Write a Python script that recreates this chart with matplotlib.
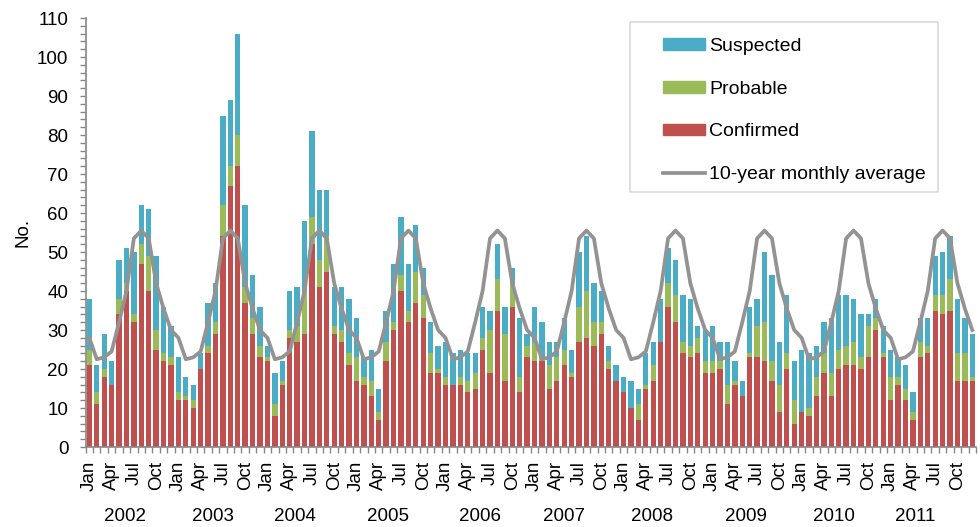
import numpy as np
import matplotlib.pyplot as plt
from matplotlib.patches import Rectangle, Patch
from matplotlib.lines import Line2D

plt.rcParams['font.family'] = ['Liberation Sans', 'DejaVu Sans']

# data, read month by month (Jan..Dec) for 2002-2011
years = ['2002', '2003', '2004', '2005', '2006', '2007', '2008', '2009', '2010', '2011']
month_labels = ['Jan', 'Apr', 'Jul', 'Oct']

confirmed = [21, 11, 18, 16, 34, 40, 32, 47, 40, 25, 22, 21,
             12, 12, 10, 20, 24, 29, 54, 67, 72, 37, 29, 23,
             22, 8, 16, 28, 27, 29, 52, 41, 45, 29, 27, 21,
             17, 16, 13, 7, 22, 30, 40, 32, 37, 33, 19, 19,
             16, 16, 16, 14, 15, 25, 19, 35, 17, 36, 14, 23,
             22, 22, 15, 17, 21, 18, 27, 28, 26, 29, 20, 17,
             14, 10, 7, 15, 17, 27, 36, 32, 24, 23, 24, 19,
             19, 20, 11, 16, 13, 23, 23, 22, 17, 9, 20, 6,
             9, 8, 13, 19, 13, 20, 21, 21, 20, 23, 30, 23,
             12, 16, 12, 7, 23, 24, 35, 34, 35, 17, 17, 17]
probable = [4, 3, 2, 0, 4, 2, 2, 5, 9, 5, 2, 2,
            2, 1, 2, 0, 2, 3, 8, 5, 8, 4, 4, 3,
            1, 3, 1, 2, 4, 11, 7, 7, 9, 2, 3, 3,
            6, 2, 4, 2, 5, 2, 4, 3, 8, 6, 5, 1,
            2, 0, 2, 3, 4, 3, 11, 8, 12, 6, 4, 3,
            5, 1, 6, 6, 4, 1, 9, 12, 6, 3, 2, 0,
            0, 0, 4, 1, 4, 0, 6, 7, 3, 3, 4, 3,
            3, 2, 5, 1, 0, 1, 8, 10, 5, 7, 4, 6,
            0, 2, 5, 5, 6, 5, 5, 6, 3, 8, 3, 1,
            6, 2, 3, 2, 4, 2, 4, 5, 8, 7, 7, 1]
suspected = [13, 7, 9, 6, 10, 9, 16, 10, 12, 19, 12, 8,
             9, 5, 4, 4, 11, 10, 23, 17, 26, 21, 11, 10,
             3, 8, 5, 10, 10, 18, 22, 18, 12, 10, 11, 14,
             10, 5, 8, 6, 8, 15, 15, 12, 12, 7, 8, 6,
             9, 8, 7, 7, 5, 8, 5, 9, 7, 4, 15, 3,
             9, 9, 6, 4, 8, 6, 14, 14, 10, 8, 4, 4,
             4, 7, 4, 8, 6, 11, 9, 9, 12, 12, 3, 8,
             9, 5, 11, 5, 4, 12, 7, 18, 22, 11, 15, 10,
             16, 14, 8, 8, 14, 14, 13, 11, 11, 3, 5, 7,
             7, 5, 6, 5, 6, 7, 10, 11, 11, 14, 9, 11]
# 10-year monthly average, same every year
monthly_avg = [28, 22.5, 23, 24.5, 32, 40, 53.5, 55.5, 53.5, 42, 35.5, 30]

c_red = '#c0504d'
c_green = '#9bbb59'
c_blue = '#4bacc6'
c_line = '#939393'
c_axis = '#868686'

n = len(confirmed)
x = np.arange(n)
conf = np.array(confirmed)
prob = np.array(probable)
susp = np.array(suspected)
avg_line = np.array(monthly_avg * len(years))

fig = plt.figure(figsize=(9.8, 5.27), dpi=100)
ax = fig.add_axes([0.0874, 0.1518, 0.9085, 0.814])

w = 0.72
ax.bar(x, conf, w, color=c_red, zorder=2)
ax.bar(x, prob, w, bottom=conf, color=c_green, zorder=2)
ax.bar(x, susp, w, bottom=conf + prob, color=c_blue, zorder=2)
ax.plot(x, avg_line, color=c_line, lw=2.7, zorder=3, solid_joinstyle='round')

ax.set_xlim(-0.5, n - 0.5)
ax.set_ylim(0, 110)
ax.set_yticks(np.arange(0, 111, 10))
ax.set_yticks(np.arange(0, 111, 2), minor=True)
ax.tick_params(axis='y', which='both', length=4, color=c_axis, width=1, labelsize=13.5, pad=8.5)

# x: month labels every quarter, tick marks between months
lab_pos = [i for i in range(n) if i % 3 == 0]
ax.set_xticks(lab_pos)
ax.set_xticklabels([month_labels[(i % 12) // 3] for i in lab_pos], rotation=90, va='top')
ax.set_xticks(np.arange(-0.5, n, 1), minor=True)
ax.tick_params(axis='x', which='major', length=0, labelsize=13.5, pad=10)
ax.tick_params(axis='x', which='minor', length=4, color=c_axis, width=1)

for s in ['top', 'right']:
    ax.spines[s].set_visible(False)
for s in ['left', 'bottom']:
    ax.spines[s].set_color(c_axis)
    ax.spines[s].set_linewidth(1.2)

ax.set_ylabel('No.', fontsize=13.5)
ax.yaxis.set_label_coords(-0.061, 0.5)

# year labels under the months
year_pos = [4.8, 16.6, 27.7, 40.2, 52.6, 64.0, 75.8, 88.5, 100.3, 111.3]
for yp, yr in zip(year_pos, years):
    ax.text(yp, -0.163, yr, transform=ax.get_xaxis_transform(), ha='center', va='center', fontsize=13.5)

# legend with its own frame
ax.add_patch(Rectangle((0.611, 0.594), 0.346, 0.397, transform=ax.transAxes, fill=False,
                       edgecolor='#d9d9d9', lw=1.2, zorder=4))
handles = [Patch(color=c_blue), Patch(color=c_green), Patch(color=c_red),
           Line2D([], [], color=c_line, lw=2.7)]
names = ['Suspected', 'Probable', 'Confirmed', '10-year monthly average']
ax.legend(handles, names, loc='upper left', bbox_to_anchor=(0.648, 0.954), frameon=False,
          fontsize=14, borderpad=0, borderaxespad=0, handlelength=2.2, handleheight=0.55,
          handletextpad=0.2, labelspacing=1.33)

fig.savefig('out.png', dpi=100)
